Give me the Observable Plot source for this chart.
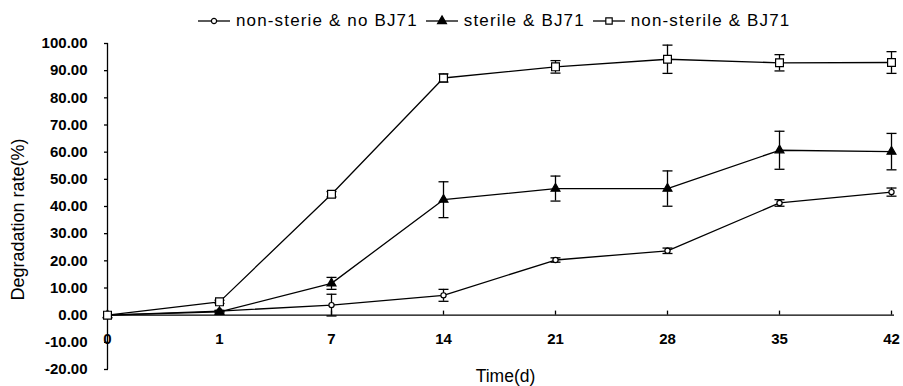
<!DOCTYPE html>
<html>
<head>
<meta charset="utf-8">
<script src="https://cdn.jsdelivr.net/npm/d3@7"></script>
<script src="https://cdn.jsdelivr.net/npm/@observablehq/plot@0.6"></script>
<style>
  body { margin: 0; background: #fff; font-family: "Liberation Sans", Arial, sans-serif; }
  #legend { height: 32px; display: flex; align-items: center; padding-left: 197px; padding-top: 9px; box-sizing: border-box; font-size: 17px; letter-spacing: 1.15px; color: #000; }
  .item { display: flex; align-items: center; margin-right: 7px; white-space: nowrap; }
  .item svg { margin-right: 5px; }
</style>
</head>
<body>
<div id="legend"></div>
<div id="chart"></div>
<script>
const days = [0, 1, 7, 14, 21, 28, 35, 42];
const seriesNames = ["non-sterie & no BJ71", "sterile & BJ71", "non-sterile & BJ71"];
const noBJ71 = [0, 1.5, 3.7, 7.3, 20.3, 23.7, 41.3, 45.3];
const noBJ71Err = [0, 0.3, 4.0, 2.2, 0.8, 1.0, 1.2, 1.5];
const sterileBJ71 = [0, 1.2, 11.7, 42.5, 46.6, 46.6, 60.7, 60.2];
const sterileErr = [0, 0.4, 2.2, 6.6, 4.6, 6.5, 7.0, 6.7];
const nonSterileBJ71 = [0, 4.9, 44.5, 87.3, 91.4, 94.2, 92.9, 93.0];
const nonSterileErr = [0, 0.6, 1.0, 1.5, 2.3, 5.2, 3.0, 4.0];
const yTicks = [-20, -10, 0, 10, 20, 30, 40, 50, 60, 70, 80, 90, 100];

const seriesStyle = {
  "non-sterie & no BJ71": {symbol: "circle", r: 2.6, fill: "white"},
  "sterile & BJ71": {symbol: "triangle", r: 3.3, fill: "black"},
  "non-sterile & BJ71": {symbol: "square", r: 4.4, fill: "white"}
};

const valuesList = [noBJ71, sterileBJ71, nonSterileBJ71];
const errList = [noBJ71Err, sterileErr, nonSterileErr];
const data = [];
seriesNames.forEach((s, i) => {
  days.forEach((d, j) => {
    data.push({series: s, day: d, v: valuesList[i][j], e: errList[i][j]});
  });
});

const capSymbol = {draw(ctx) { ctx.moveTo(-5, 0); ctx.lineTo(5, 0); }};

const dotMarks = seriesNames.map(s => Plot.dot(data.filter(d => d.series === s), {
  x: "day", y: "v", symbol: seriesStyle[s].symbol, r: seriesStyle[s].r,
  fill: seriesStyle[s].fill, stroke: "black", strokeWidth: 1.2
}));

const chart = Plot.plot({
  width: 903,
  height: 354,
  marginLeft: 104,
  marginRight: 9,
  marginTop: 11,
  marginBottom: 17,
  style: {fontFamily: "'Liberation Sans', Arial, sans-serif", color: "black", background: "white"},
  x: {type: "point", domain: days, padding: 0, axis: null},
  y: {domain: [-20, 100], axis: null},
  marks: [
    Plot.ruleX([0], {y1: -20, y2: 100, stroke: "black", strokeWidth: 1.3}),
    Plot.ruleY([0], {stroke: "black", strokeWidth: 1.3}),
    Plot.ruleX(days, {x: d => d, y1: 0, y2: 1.5, stroke: "black", strokeWidth: 1.3}),
    Plot.axisY({ticks: yTicks, tickSize: -4, tickPadding: 21, tickFormat: d => d.toFixed(2), fontSize: 15, fontWeight: "bold", label: null, strokeWidth: 1.3}),
    Plot.text(days, {x: d => d, y: 0, dy: 24, text: d => String(d), fontSize: 15, fontWeight: "bold"}),
    Plot.text(["Time(d)"], {frameAnchor: "bottom", lineAnchor: "bottom", dy: 12, dx: 6, fontSize: 17.5, letterSpacing: 0.9}),
    Plot.text(["Degradation rate(%)"], {frameAnchor: "left", textAnchor: "middle", dx: -86, dy: 13, rotate: -90, fontSize: 18, letterSpacing: 1.2}),
    Plot.line(data, {x: "day", y: "v", z: "series", stroke: "black", strokeWidth: 1.3}),
    Plot.ruleX(data.filter(d => d.e > 0), {x: "day", y1: d => d.v - d.e, y2: d => d.v + d.e, stroke: "black", strokeWidth: 1.3}),
    Plot.dot(data.filter(d => d.e > 0), {x: "day", y: d => d.v + d.e, symbol: capSymbol, fill: "none", stroke: "black", strokeWidth: 1.3}),
    Plot.dot(data.filter(d => d.e > 0), {x: "day", y: d => d.v - d.e, symbol: capSymbol, fill: "none", stroke: "black", strokeWidth: 1.3}),
    ...dotMarks
  ]
});
document.getElementById("chart").appendChild(chart);

// legend
const legend = d3.select("#legend");
const symbolPath = {
  circle: d3.symbol(d3.symbolCircle, Math.PI * 2.6 * 2.6)(),
  triangle: d3.symbol(d3.symbolTriangle, Math.PI * 3.3 * 3.3)(),
  square: d3.symbol(d3.symbolSquare, Math.PI * 3.6 * 3.6)()
};
seriesNames.forEach(s => {
  const item = legend.append("div").attr("class", "item");
  const svg = item.append("svg").attr("width", 34).attr("height", 14);
  svg.append("line").attr("x1", 1).attr("x2", 33).attr("y1", 7).attr("y2", 7).attr("stroke", "black").attr("stroke-width", 1.3);
  svg.append("path").attr("d", symbolPath[seriesStyle[s].symbol]).attr("transform", "translate(17,7)")
    .attr("fill", seriesStyle[s].fill).attr("stroke", "black").attr("stroke-width", 1.2);
  item.append("span").text(s);
});
</script>
</body>
</html>
